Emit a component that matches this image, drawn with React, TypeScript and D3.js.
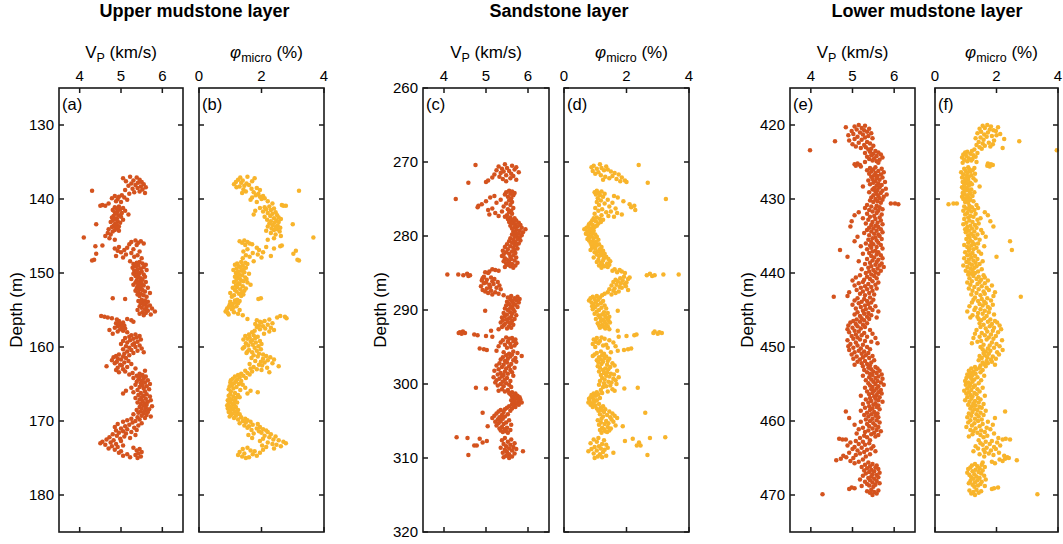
import React from 'react';
import * as d3 from 'd3';

// depth (m), Vp (km/s), phi_micro (%)
const upperLog: [number, number, number][] = [
  [137.0,5.22,1.55],[137.1,5.38,1.32],[137.2,5.05,1.78],[137.4,5.45,1.25],[137.5,5.30,1.40],[137.6,5.12,1.70],[137.7,5.50,1.18],
  [137.8,5.41,1.35],[137.9,5.25,1.52],[138.0,5.55,1.12],[138.1,5.35,1.60],[138.2,5.18,1.45],[138.3,5.48,1.30],[138.4,5.60,1.20],[138.5,5.40,1.85],
  [138.6,5.28,1.68],[138.7,5.52,1.42],[138.8,5.10,1.95],[138.9,4.30,3.20],[139.0,5.45,1.50],[139.1,5.32,1.75],[139.2,5.58,1.38],[139.3,5.20,1.90],
  [139.5,5.02,1.82],[139.6,4.85,2.05],[139.7,4.95,1.95],[139.8,5.08,1.70],[139.9,4.78,2.10],[140.0,4.92,2.00],[140.1,5.15,1.65],[140.3,4.88,2.20],
  [140.4,5.00,1.85],[140.6,4.70,2.35],[140.8,4.55,2.65],[140.9,4.62,2.78],[140.9,4.50,2.70],
  [141.0,4.95,2.25],[141.1,4.85,2.10],[141.2,5.05,1.95],[141.3,4.90,2.40],[141.4,4.98,2.15],[141.5,4.80,2.30],[141.6,5.10,1.80],[141.7,4.92,2.05],
  [141.8,4.85,2.45],[141.9,5.02,2.20],[142.0,4.88,2.35],[142.1,5.18,1.75],[142.2,4.95,2.50],[142.3,4.82,2.28],[142.4,5.00,2.10],[142.5,4.78,2.55],
  [142.6,4.90,2.40],[142.7,4.85,2.62],[142.8,5.05,2.18],[142.9,4.80,2.48],[143.0,4.92,2.30],[143.1,4.75,2.55],[143.2,4.98,2.42],[143.3,4.86,2.25],
  [143.4,4.40,3.00],[143.5,4.90,2.35],[143.6,4.82,2.52],[143.7,4.95,2.20],[143.8,4.78,2.45],[143.9,4.88,2.60],[144.0,4.92,2.32],[144.1,4.70,2.50],
  [144.2,4.85,2.40],[144.3,4.95,2.15],[144.4,4.80,2.58],[144.6,4.68,2.30],[144.8,4.75,2.45],[145.0,4.62,2.62],[145.2,4.10,3.66],[145.3,4.72,2.40],
  [145.5,4.85,2.20],[145.6,5.35,1.45],[145.7,5.48,1.30],[145.8,5.25,1.55],[145.9,5.42,1.38],[146.0,5.55,1.62],[146.1,5.20,1.70],[146.2,5.38,1.48],
  [146.3,4.55,2.65],[146.4,4.38,2.60],[146.5,4.95,2.15],[146.6,5.15,1.85],[146.7,4.85,2.40],[146.8,5.30,1.55],[146.9,5.08,1.92],[147.0,4.92,3.10],
  [147.1,5.45,1.42],[147.2,5.00,2.05],[147.3,5.25,1.72],[147.4,4.40,3.02],[147.5,5.12,1.88],[147.6,5.40,1.50],[147.7,4.88,2.30],[147.8,5.32,1.62],
  [147.9,5.05,2.00],[148.0,5.50,1.40],[148.2,4.35,3.15],[148.3,4.30,3.20],[148.4,5.22,1.75],
  [148.5,5.45,1.35],[148.6,5.38,1.48],[148.7,5.52,1.22],[148.8,5.30,1.55],[148.9,5.60,1.15],[149.0,5.42,1.40],[149.1,5.35,1.28],[149.2,5.55,1.32],
  [149.3,5.28,1.50],[149.4,5.48,1.20],[149.5,5.40,1.42],[149.6,5.62,1.10],[149.7,5.32,1.35],[149.8,5.50,1.25],[149.9,5.38,1.45],[150.0,5.45,1.18],
  [150.1,5.30,1.60],[150.2,5.55,1.28],[150.3,5.42,1.38],[150.4,5.35,1.22],[150.5,5.58,1.15],[150.6,5.40,1.48],[150.7,5.48,1.30],[150.8,5.25,1.52],
  [150.9,5.52,1.20],[151.0,5.38,1.35],[151.1,5.45,1.42],[151.2,5.60,1.12],[151.3,5.35,1.55],[151.4,5.50,1.25],[151.5,5.42,1.30],[151.6,5.30,1.65],
  [151.7,5.55,1.18],[151.8,5.40,1.40],[151.9,5.48,1.22],[152.0,5.65,1.08],[152.1,5.38,1.50],[152.2,5.45,1.32],[152.3,5.52,1.15],[152.4,5.35,1.45],
  [152.5,5.58,1.20],[152.6,5.42,1.38],[152.7,5.70,1.00],[152.8,5.48,1.28],[152.9,5.40,1.42],[153.0,5.55,1.12],[153.1,5.45,1.35],[153.2,5.62,1.05],
  [153.4,4.80,1.98],[153.5,5.10,1.90],[153.6,5.50,1.22],[153.7,5.58,1.15],[153.8,5.42,1.30],[153.9,5.65,1.00],[154.0,5.52,1.18],[154.1,5.48,1.25],
  [154.2,5.60,1.08],[154.3,5.55,0.98],[154.4,5.70,1.02],[154.5,5.45,1.20],[154.6,5.62,0.95],[154.7,5.50,1.10],[154.8,5.75,0.90],[154.9,5.58,1.05],
  [155.0,5.40,1.30],[155.1,5.65,0.88],[155.2,5.82,0.85],[155.3,5.52,1.12],[155.4,5.60,0.92],[155.5,5.45,1.25],[155.6,5.72,0.95],[155.7,5.55,1.40],
  [155.8,4.52,2.60],[155.9,4.60,2.75],[156.0,4.68,2.50],[156.1,4.78,2.80],[156.2,5.15,1.55],[156.3,4.90,2.25],[156.4,5.25,1.85],[156.5,4.95,2.10],
  [156.6,5.30,1.95],[156.7,5.05,2.00],[156.8,4.88,2.35],[156.9,5.00,1.80],[157.0,4.95,2.20],[157.1,5.08,1.92],[157.2,4.92,2.05],[157.3,5.02,1.85],
  [157.4,4.85,2.30],[157.5,5.10,2.12],[157.6,4.98,1.95],[157.7,4.72,2.40],[157.8,5.05,1.78],[157.9,4.92,2.25],[158.0,5.15,1.70],[158.2,4.80,2.08],
  [158.3,5.35,1.60],[158.4,5.25,1.75],[158.5,5.45,1.48],[158.6,5.20,1.88],[158.7,5.38,1.62],[158.8,5.10,1.80],[158.9,5.30,1.55],[159.0,5.48,1.42],
  [159.1,5.22,1.70],[159.2,5.05,1.95],[159.3,5.40,1.65],[159.4,5.15,1.82],[159.5,5.32,1.50],[159.6,5.00,2.00],[159.7,5.28,1.72],[159.8,5.45,1.58],
  [159.9,5.12,1.90],[160.0,5.35,1.45],[160.1,5.20,1.78],[160.2,5.50,1.40],[160.3,5.05,1.98],[160.4,5.25,1.60],[160.5,5.40,1.85],[160.6,5.15,1.55],
  [160.7,5.55,1.70],[160.8,5.30,1.52],[160.9,5.08,1.92],[161.0,4.95,2.05],[161.1,5.20,1.75],[161.2,4.88,2.15],[161.3,5.05,1.88],[161.4,4.82,2.28],
  [161.5,5.12,1.68],[161.6,4.92,2.05],[161.7,5.00,2.40],[161.8,4.78,2.20],[161.9,5.18,1.80],[162.0,4.90,1.98],[162.1,5.08,2.10],[162.2,4.85,2.35],
  [162.3,5.25,1.62],[162.4,4.98,1.92],[162.5,5.02,2.02],[162.6,4.65,2.55],[162.7,5.15,1.75],[162.8,4.92,2.18],[162.9,5.35,1.65],[163.0,5.05,1.85],
  [163.1,4.88,2.00],[163.2,5.58,1.48],[163.3,5.10,1.70],[163.4,4.95,2.25],[163.5,5.28,1.55],[163.6,5.45,1.35],[163.7,5.20,1.62],[163.8,5.52,1.25],
  [163.9,5.38,1.42],[164.0,5.60,1.15],[164.1,5.45,1.30],[164.2,5.30,1.50],[164.3,5.55,1.08],[164.4,5.42,1.22],[164.5,5.65,1.02],[164.6,5.50,1.35],
  [164.7,5.38,1.18],[164.8,5.58,1.00],[164.9,5.48,1.12],[165.0,5.70,1.28],[165.1,5.35,1.40],[165.2,5.52,1.05],[165.3,5.62,0.98],[165.4,5.45,1.20],
  [165.5,5.25,1.48],[165.6,5.55,1.10],[165.7,5.68,0.95],[165.8,5.40,1.32],[165.9,5.12,1.65],[166.0,5.58,1.02],[166.1,5.30,1.88],[166.2,5.48,1.15],
  [166.3,5.05,1.55],[166.4,5.62,1.00],[166.5,5.42,1.25],[166.6,5.55,0.95],[166.7,5.70,1.10],[166.8,5.50,1.30],[166.9,5.35,1.18],[167.0,5.60,0.98],
  [167.1,5.45,1.05],[167.2,5.72,0.92],[167.3,5.52,1.15],[167.4,5.65,1.00],[167.5,5.40,1.22],[167.6,5.58,0.95],[167.7,5.48,1.08],[167.8,5.62,1.12],
  [167.9,5.55,0.90],[168.0,5.75,0.98],[168.1,5.45,1.18],[168.2,5.60,1.05],[168.3,5.50,0.92],[168.4,5.68,1.10],[168.5,5.38,1.25],[168.6,5.58,1.00],
  [168.7,5.48,1.15],[168.8,5.65,0.95],[168.9,5.42,1.22],[169.0,5.55,1.08],[169.1,5.30,1.30],[169.2,5.62,1.02],[169.3,5.50,1.18],[169.4,5.72,0.98],
  [169.5,5.40,1.35],[169.6,5.58,1.12],[169.7,5.25,1.48],[169.8,5.45,1.25],[169.9,5.15,1.55],[170.0,5.35,1.40],[170.1,5.05,1.65],[170.2,5.28,1.50],
  [170.3,5.50,1.30],[170.4,4.92,1.88],[170.5,5.20,1.72],[170.6,5.42,1.45],[170.7,5.10,1.60],[170.8,4.85,1.95],[170.9,5.32,1.55],[171.0,5.00,1.85],
  [171.1,5.15,2.05],[171.2,5.38,1.68],[171.3,4.88,2.15],[171.4,5.05,1.92],[171.5,5.25,2.20],[171.6,4.95,2.00],[171.7,5.12,1.75],[171.8,4.80,2.30],
  [171.9,5.35,1.58],[172.0,4.90,2.10],[172.1,5.08,2.45],[172.2,4.72,2.25],[172.3,5.22,1.70],[172.4,4.98,2.05],[172.5,4.65,2.38],[172.6,4.82,2.55],
  [172.7,5.00,1.95],[172.8,4.55,2.70],[172.9,4.75,2.20],[173.0,4.50,2.78],[173.1,4.88,2.35],[173.2,4.62,2.48],[173.3,5.05,2.02],[173.4,4.78,2.62],
  [173.5,4.92,2.15],[173.6,5.30,1.55],[173.7,4.70,2.40],[173.8,5.45,1.40],[173.9,4.85,2.05],[174.0,5.38,1.65],[174.1,5.00,1.78],[174.2,5.50,1.30],
  [174.3,4.95,1.95],[174.4,5.42,1.45],[174.5,5.15,1.72],[174.6,5.35,1.25],[174.7,5.05,1.85],[174.8,5.48,1.38],[174.9,5.22,1.60],[175.0,5.40,1.50],
];

const sandLog: [number, number, number][] = [
  [270.3,5.45,1.15],[270.4,4.75,2.39],[270.5,5.62,0.95],[270.6,5.30,1.35],[270.7,5.72,0.88],[270.8,5.50,1.20],[270.9,5.38,1.05],[271.0,5.68,1.40],
  [271.1,5.25,1.28],[271.2,5.55,0.92],[271.3,5.42,1.50],[271.4,5.78,1.10],[271.5,5.35,1.62],[271.6,5.60,1.00],[271.7,5.20,1.75],[271.8,5.48,1.18],
  [271.9,5.65,1.55],[272.0,5.32,1.32],[272.1,5.15,1.85],[272.2,5.58,1.45],[272.3,5.40,1.68],[272.4,5.72,1.25],[272.5,5.05,1.95],[272.6,5.48,1.80],
  [272.7,5.00,2.00],[272.8,4.58,2.68],
  [273.9,5.55,1.05],[274.0,5.62,1.20],[274.1,5.48,0.98],[274.2,5.68,1.12],[274.3,5.58,1.30],[274.4,5.45,1.02],[274.5,5.65,1.15],[274.6,5.20,1.60],
  [274.7,5.52,1.25],[274.8,5.10,1.72],[274.9,5.60,1.08],[275.0,4.28,3.26],[275.1,5.35,1.40],[275.2,5.55,1.18],[275.3,5.00,1.90],[275.4,5.62,1.05],
  [275.5,5.25,1.55],[275.6,5.48,1.30],[275.7,4.90,2.10],[275.8,5.58,1.12],[275.9,4.82,2.25],[276.0,5.42,1.45],[276.1,4.80,2.15],[276.2,5.65,1.00],
  [276.3,5.15,1.65],[276.4,5.52,1.22],[276.5,5.05,2.28],[276.6,5.60,1.10],[276.7,5.38,1.50],[276.8,5.55,1.35],[276.9,5.22,1.70],[277.0,5.62,0.98],
  [277.1,5.08,1.85],[277.2,5.50,1.20],[277.3,5.30,1.42],[277.4,5.45,1.60],[277.5,5.58,1.05],[277.6,5.68,0.95],[277.7,5.52,1.15],
  [277.8,5.60,1.25],[277.9,5.72,0.90],[278.0,5.65,1.02],[278.1,5.55,1.18],[278.2,5.78,0.85],[278.3,5.62,1.10],[278.4,5.70,0.80],[278.5,5.82,0.92],
  [278.6,5.58,1.05],[278.7,5.75,0.78],[278.8,5.68,0.98],[278.9,5.85,0.72],[279.0,5.62,0.88],[279.1,5.94,0.65],[279.2,5.72,0.82],[279.3,5.80,0.95],
  [279.4,5.65,0.75],[279.5,5.88,0.85],[279.6,5.70,0.92],[279.7,5.78,0.70],[279.8,5.62,1.00],[279.9,5.85,0.78],[280.0,5.72,0.88],[280.1,5.68,1.05],
  [280.2,5.80,0.82],[280.3,5.58,0.95],[280.4,5.75,0.75],[280.5,5.65,1.10],[280.6,5.82,0.80],[280.7,5.55,0.92],[280.8,5.70,1.02],[280.9,5.62,0.85],
  [281.0,5.78,0.98],[281.1,5.50,1.12],[281.2,5.68,0.88],[281.3,5.72,1.05],[281.4,5.58,0.95],[281.5,5.45,1.20],[281.6,5.65,0.90],[281.7,5.75,1.00],
  [281.8,5.52,1.15],[281.9,5.68,0.85],[282.0,5.40,1.25],[282.1,5.62,1.08],[282.2,5.48,0.98],[282.3,5.70,1.18],[282.4,5.55,1.30],[282.5,5.42,1.05],
  [282.6,5.65,1.22],[282.7,5.38,1.12],[282.8,5.58,1.35],[282.9,5.72,0.95],[283.0,5.45,1.28],[283.1,5.60,1.42],[283.2,5.50,1.10],[283.3,5.68,1.25],
  [283.4,5.42,1.48],[283.5,5.55,1.05],[283.6,5.75,1.18],[283.7,5.48,1.38],[283.8,5.62,1.22],[283.9,5.52,1.45],[284.0,5.70,1.12],[284.1,5.58,1.30],
  [284.2,5.45,1.40],[284.3,5.65,1.20],[284.5,5.15,1.62],[284.6,5.22,1.78],[284.7,5.30,1.55],[284.8,5.08,1.85],[284.9,4.98,1.70],
  [285.0,5.05,1.95],[285.1,4.55,2.75],[285.2,4.08,3.67],[285.2,4.34,3.18],[285.3,4.46,2.90],[285.3,4.62,2.65],[285.4,4.58,2.82],[285.5,4.95,1.92],
  [285.6,5.12,2.10],[285.7,4.92,1.80],[285.8,5.20,2.05],[285.9,5.02,1.65],[286.0,4.90,1.88],[286.1,5.15,1.72],[286.2,5.28,1.58],[286.3,5.00,2.00],
  [286.4,4.95,1.82],[286.5,5.18,1.95],[286.6,5.08,1.68],[286.7,5.32,1.52],[286.8,4.88,1.98],[286.9,5.10,1.78],[287.0,5.25,1.85],[287.1,5.02,1.62],
  [287.2,5.35,1.45],[287.3,4.92,2.05],[287.4,5.12,1.58],[287.5,4.98,1.75],[287.6,5.22,1.40],[287.7,5.05,1.65],[287.8,5.30,1.30],[287.9,5.15,1.52],
  [288.0,5.42,1.22],[288.1,5.60,1.05],[288.2,5.75,0.92],[288.3,5.52,1.15],[288.4,5.68,0.85],[288.5,5.80,0.98],[288.6,5.58,1.10],[288.7,5.72,0.80],
  [288.8,5.62,1.25],[288.9,5.50,1.02],[289.0,5.78,0.88],[289.1,5.65,1.18],[289.2,5.55,0.95],[289.3,5.70,1.08],[289.4,5.48,1.30],[289.5,5.62,0.90],
  [289.6,5.75,1.00],[289.7,5.58,1.20],[289.8,5.45,1.35],[289.9,5.65,0.92],[290.0,5.52,1.12],[290.1,4.98,1.72],[290.2,5.68,1.05],[290.3,5.58,1.28],
  [290.4,5.42,1.40],[290.5,5.62,0.98],[290.6,5.50,1.22],[290.7,5.72,1.10],[290.8,5.45,1.32],[290.9,5.60,1.45],[291.0,5.38,1.15],[291.1,5.55,1.38],
  [291.2,5.68,1.02],[291.3,5.48,1.25],[291.4,5.40,1.42],[291.5,5.62,1.18],[291.6,5.52,1.30],[291.7,5.35,1.47],[291.8,5.58,1.08],[291.9,5.45,1.35],
  [292.0,5.65,1.22],[292.1,5.42,1.12],[292.2,5.55,1.40],[292.3,5.38,1.28],[292.4,5.60,1.15],[292.5,5.50,1.32],[292.6,5.30,1.45],
  [292.8,5.12,1.72],[292.9,4.45,2.90],[293.0,4.38,3.05],[293.1,4.35,3.13],[293.1,4.50,2.86],[293.2,4.42,3.00],[293.3,4.72,2.32],[293.4,4.80,2.25],
  [293.5,5.00,2.00],[293.6,5.15,1.75],[293.7,5.48,1.20],[293.8,5.62,1.05],[293.9,5.55,1.30],[294.0,5.70,0.95],[294.1,5.40,1.45],[294.2,5.65,1.15],
  [294.3,5.52,1.02],[294.4,5.35,1.58],[294.5,5.72,1.10],[294.6,5.58,0.92],[294.7,5.45,1.35],[294.8,5.68,1.25],[294.9,5.30,1.65],[295.0,5.60,1.00],
  [295.1,5.50,1.40],[295.2,4.85,2.15],[295.3,4.95,2.05],[295.4,5.02,1.92],[295.5,5.25,1.72],[295.6,5.65,1.18],[295.7,5.42,1.50],[295.8,5.75,1.05],
  [295.9,5.55,1.28],[296.0,5.62,0.98],[296.1,5.48,1.22],[296.2,5.85,0.92],[296.3,5.58,1.35],[296.4,5.40,1.12],[296.5,5.70,1.30],[296.6,5.52,1.45],
  [296.7,5.35,1.18],[296.8,5.65,1.05],[296.9,5.45,1.40],[297.0,5.72,1.25],[297.1,5.50,1.10],[297.2,5.32,1.55],[297.3,5.60,1.20],[297.4,5.42,1.38],
  [297.5,5.25,1.62],[297.6,5.55,1.08],[297.7,5.38,1.48],[297.8,5.68,1.15],[297.9,5.48,1.32],[298.0,5.30,1.42],[298.1,5.58,1.25],[298.2,5.20,1.70],
  [298.3,5.45,1.12],[298.4,5.62,1.38],[298.5,5.35,1.28],[298.6,5.52,1.50],[298.7,5.28,1.60],[298.8,5.42,1.18],[298.9,5.65,1.35],[299.0,5.38,1.45],
  [299.1,5.18,1.75],[299.2,5.50,1.22],[299.3,5.32,1.58],[299.4,5.45,1.30],[299.5,5.25,1.65],[299.6,5.58,1.15],[299.7,5.40,1.42],[299.8,5.22,1.52],
  [299.9,5.48,1.28],[300.0,5.35,1.68],[300.1,5.55,1.12],[300.2,5.28,1.48],[300.3,5.42,1.35],[300.4,5.60,1.25],[300.5,4.76,2.36],[300.6,5.00,1.93],
  [300.7,5.38,1.55],[300.8,5.52,1.18],[300.9,5.30,1.62],[301.0,5.45,1.40],[301.1,5.62,1.05],[301.2,5.55,1.22],[301.3,5.70,0.95],[301.4,5.58,1.10],
  [301.5,5.68,0.88],[301.6,5.75,1.02],[301.7,5.62,0.92],[301.8,5.80,0.85],[301.9,5.65,1.15],[302.0,5.72,0.80],[302.1,5.82,0.95],[302.2,5.60,1.05],
  [302.3,5.78,0.82],[302.4,5.68,0.98],[302.5,5.85,0.78],[302.6,5.72,0.90],[302.7,5.62,1.12],[302.8,5.78,0.85],[302.9,5.65,1.00],[303.0,5.55,1.25],
  [303.1,5.70,0.92],[303.2,5.50,1.18],[303.3,5.62,1.05],[303.4,5.45,1.32],[303.5,5.35,1.20],[303.6,5.58,1.10],[303.7,5.30,1.45],[303.8,5.42,1.28],
  [303.9,4.92,2.60],[304.0,5.25,1.55],[304.1,5.52,1.15],[304.2,5.38,1.38],[304.3,5.20,1.62],[304.4,5.45,1.25],[304.5,5.32,1.48],[304.6,5.15,1.70],
  [304.7,5.40,1.20],[304.8,5.28,1.52],[304.9,5.55,1.08],[305.0,5.35,1.35],[305.1,5.22,1.58],[305.2,5.48,1.18],[305.3,5.30,1.42],[305.4,5.42,1.30],
  [305.5,5.60,1.12],[305.6,5.25,1.65],[305.7,5.04,1.88],[305.8,5.38,1.40],[305.9,5.50,1.22],[306.0,5.32,1.50],[306.1,5.45,1.28],[306.2,5.58,1.15],
  [306.3,5.35,1.45],[306.4,5.48,1.32],[306.5,5.40,1.38],[306.6,5.52,1.20],
  [307.2,4.30,3.24],[307.3,4.56,2.75],[307.3,5.45,1.10],[307.4,4.85,2.20],[307.5,5.60,0.95],[307.6,5.38,1.28],[307.7,5.02,1.95],[307.8,5.52,1.05],
  [307.9,4.92,2.40],[308.0,5.68,0.85],[308.1,5.42,1.22],[308.2,5.58,1.35],[308.3,4.72,2.45],[308.3,4.78,2.33],[308.4,5.48,1.12],[308.5,5.65,0.98],
  [308.6,5.35,1.40],[308.7,5.55,1.18],[308.8,5.72,0.88],[308.9,5.45,1.30],[309.0,5.62,1.05],[309.1,5.88,0.78],[309.2,5.50,1.25],[309.3,5.40,1.58],
  [309.4,5.68,0.95],[309.5,5.55,1.15],[309.6,4.58,2.67],[309.7,5.48,1.35],[309.8,5.62,1.08],[309.9,5.42,1.22],[310.0,5.55,0.98],
];

const lowerLog: [number, number, number][] = [
  [420.0,5.15,1.70],[420.1,5.30,1.55],[420.2,5.05,1.82],[420.3,4.84,2.05],[420.4,5.22,1.62],[420.5,5.40,1.45],[420.6,5.10,1.78],[420.7,5.28,1.90],
  [420.8,4.98,1.98],[420.9,5.35,1.50],[421.0,5.18,1.72],[421.1,5.45,1.38],[421.2,5.02,2.12],[421.3,5.25,1.60],[421.4,4.90,2.00],[421.5,5.38,1.85],
  [421.6,5.12,1.68],[421.7,5.30,1.48],[421.8,5.48,1.32],[421.9,5.05,2.25],[422.0,5.22,1.58],[422.1,4.92,1.92],[422.2,4.58,2.74],[422.3,5.35,1.42],
  [422.4,5.15,1.75],[422.5,5.42,1.55],[422.6,5.00,1.88],[422.7,5.28,1.35],[422.8,5.50,1.62],[422.9,5.08,1.80],[423.0,5.32,1.45],[423.1,5.20,2.20],
  [423.2,5.45,1.52],[423.3,5.38,1.28],[423.4,3.98,3.96],[423.5,5.55,1.20],[423.6,5.42,1.05],[423.7,5.62,0.98],[423.8,5.30,1.38],[423.9,5.50,1.15],
  [424.0,5.68,0.92],[424.1,5.45,1.25],[424.2,5.58,1.02],[424.3,5.35,1.32],[424.4,5.72,0.88],[424.5,5.52,1.10],[424.6,5.40,1.22],[424.7,5.65,0.95],
  [424.8,5.48,1.18],[424.9,5.58,1.05],[425.0,5.30,1.35],[425.1,5.62,0.90],[425.2,5.12,1.72],[425.3,5.05,1.82],[425.4,5.18,1.88],[425.5,5.08,1.70],
  [425.6,5.20,1.78],[425.7,5.55,1.08],[425.8,5.42,1.28],[425.9,5.70,0.95],[426.0,5.50,1.12],[426.1,5.35,1.22],[426.2,5.62,1.00],[426.3,5.45,1.15],
  [426.4,5.75,0.85],[426.5,5.55,1.05],[426.6,5.40,1.30],[426.7,5.68,0.92],[426.8,5.52,1.18],[426.9,5.60,1.02],[427.0,5.45,1.10],[427.1,5.72,0.88],
  [427.2,5.58,1.25],[427.3,5.48,0.98],[427.4,5.65,1.08],[427.5,5.38,1.32],[427.6,5.55,1.00],[427.7,5.78,0.90],[427.8,5.50,1.15],[427.9,5.62,1.05],
  [428.0,5.42,1.20],[428.1,5.70,0.95],[428.2,5.58,1.10],[428.3,5.25,1.45],[428.4,5.65,0.88],[428.5,5.52,1.02],[428.6,5.80,0.92],[428.7,5.48,1.18],
  [428.8,5.60,1.08],[428.9,5.72,0.98],[429.0,5.55,1.12],[429.1,5.40,1.28],[429.2,5.68,0.90],[429.3,5.58,1.15],[429.4,5.82,0.95],[429.5,5.50,1.05],
  [429.6,5.62,1.22],[429.7,5.75,0.88],[429.8,5.45,1.10],[429.9,5.65,1.00],[430.0,5.55,0.92],[430.1,5.72,1.15],[430.2,5.42,1.05],[430.3,5.60,1.25],
  [430.4,5.50,0.98],[430.5,5.68,1.08],[430.6,5.92,0.71],[430.6,6.02,0.60],[430.7,6.10,0.44],[430.8,5.35,1.35],[430.9,5.58,1.12],[431.0,5.45,0.95],
  [431.1,5.65,1.20],[431.2,5.30,1.40],[431.3,5.55,1.02],[431.4,5.72,1.10],[431.5,5.40,1.28],[431.6,5.62,0.92],[431.7,5.48,1.18],[431.8,5.15,1.62],
  [431.9,5.58,1.05],[432.0,5.35,1.32],[432.1,5.70,0.98],[432.2,5.05,1.72],[432.3,5.52,1.15],[432.4,5.42,1.25],[432.5,5.65,1.08],[432.6,5.25,1.48],
  [432.7,5.55,0.95],[432.8,5.38,1.38],[432.9,5.68,1.12],[433.0,4.98,1.80],[433.1,5.48,1.22],[433.2,5.60,1.02],[433.3,5.32,1.42],[433.4,5.72,0.92],
  [433.5,5.45,1.30],[433.6,5.55,1.15],[433.7,4.95,1.90],[433.8,5.62,1.05],[433.9,5.40,1.35],[434.0,5.50,1.20],[434.1,5.68,0.98],[434.2,5.35,1.50],
  [434.3,5.58,1.10],[434.4,5.45,1.28],[434.5,5.72,1.00],[434.6,5.28,1.55],[434.7,5.52,1.18],[434.8,5.62,1.38],[434.9,5.40,1.08],[435.0,5.65,1.25],
  [435.1,5.12,1.65],[435.2,5.55,1.12],[435.3,5.48,1.32],[435.4,5.70,1.02],[435.5,5.38,1.45],[435.6,5.58,1.15],[435.7,5.05,2.44],[435.8,5.45,1.22],
  [435.9,5.62,1.08],[436.0,5.32,1.40],[436.1,5.50,1.28],[436.2,5.68,0.95],[436.3,5.42,1.18],[436.4,5.20,1.60],[436.5,5.58,1.05],[436.6,5.45,1.35],
  [436.7,5.72,1.12],[436.8,5.35,1.25],[436.9,4.70,2.50],[437.0,5.55,1.10],[437.1,5.48,1.42],[437.2,5.62,0.98],[437.3,5.40,1.22],[437.4,5.25,1.50],
  [437.5,5.58,1.15],[437.6,5.68,1.05],[437.7,5.45,1.30],[437.8,4.88,2.00],[437.9,5.52,1.18],[438.0,5.72,0.95],[438.1,5.35,1.38],[438.2,5.62,1.10],
  [438.3,5.48,1.25],[438.4,5.15,1.55],[438.5,5.58,1.02],[438.6,5.42,1.32],[438.7,5.70,1.12],[438.8,5.30,1.45],[438.9,5.55,1.20],[439.0,5.65,0.92],
  [439.1,5.45,1.35],[439.2,5.75,1.05],[439.3,5.38,1.28],[439.4,5.60,1.15],[439.5,5.22,1.52],[439.6,5.50,1.22],[439.7,5.68,1.00],[439.8,5.40,1.40],
  [439.9,5.55,1.10],[440.0,5.32,1.30],[440.1,5.62,1.18],[440.2,5.45,1.08],[440.3,5.18,1.58],[440.4,5.52,1.25],[440.5,5.35,1.42],[440.6,5.08,1.62],
  [440.7,5.58,1.12],[440.8,5.42,1.35],[440.9,5.28,1.50],[441.0,5.00,1.72],[441.1,5.48,1.20],[441.2,5.25,1.45],[441.3,5.62,1.05],[441.4,5.15,1.62],
  [441.5,5.38,1.38],[441.6,5.55,1.15],[441.7,5.05,1.85],[441.8,5.30,1.52],[441.9,5.45,1.28],[442.0,5.20,1.68],[442.1,5.58,1.10],[442.2,5.35,1.42],
  [442.3,5.10,1.75],[442.4,5.48,1.22],[442.5,5.25,1.58],[442.6,4.92,1.95],[442.7,5.40,1.35],[442.8,5.18,1.62],[442.9,5.52,1.18],[443.0,5.30,1.48],
  [443.1,4.88,1.90],[443.2,4.55,2.79],[443.3,5.42,1.30],[443.4,5.12,1.70],[443.5,5.28,1.52],[443.6,5.50,1.25],[443.7,5.05,1.82],[443.8,5.35,1.40],
  [443.9,5.22,1.60],[444.0,5.45,1.20],[444.1,5.15,1.65],[444.2,5.38,1.45],[444.3,5.00,1.88],[444.4,5.30,1.55],[444.5,5.55,1.12],[444.6,5.20,1.72],
  [444.7,5.42,1.32],[444.8,5.08,1.78],[444.9,5.32,1.48],[445.0,5.48,1.28],[445.1,5.25,1.62],[445.2,5.62,1.05],[445.3,5.12,1.75],[445.4,5.38,1.40],
  [445.5,5.28,1.55],[445.6,5.05,1.92],[445.7,5.45,1.22],[445.8,5.18,1.68],[445.9,5.35,1.38],[446.0,5.58,1.15],[446.1,5.22,1.60],[446.2,5.40,1.42],
  [446.3,5.10,1.80],[446.4,5.28,1.50],[446.5,5.02,1.95],[446.6,5.18,1.72],[446.7,4.95,2.02],[446.8,5.35,1.45],[446.9,5.08,1.85],[447.0,5.25,1.58],
  [447.1,4.90,2.10],[447.2,5.12,1.78],[447.3,5.30,1.48],[447.4,5.00,1.92],[447.5,5.20,1.65],[447.6,4.88,2.15],[447.7,5.42,1.35],[447.8,5.05,1.88],
  [447.9,5.15,1.70],[448.0,4.92,2.05],[448.1,5.28,1.52],[448.2,5.48,1.30],[448.3,5.08,1.82],[448.4,5.22,1.62],[448.5,4.98,1.98],[448.6,5.35,1.45],
  [448.7,5.12,1.75],[448.8,5.55,1.25],[448.9,5.02,1.90],[449.0,5.18,1.68],[449.1,4.88,2.18],[449.2,5.30,1.50],[449.3,5.45,1.38],[449.4,5.08,1.85],
  [449.5,5.60,1.20],[449.6,4.95,2.00],[449.7,5.25,1.58],[449.8,5.12,1.78],[449.9,4.90,2.10],[450.0,5.35,1.48],[450.1,5.02,1.92],[450.2,5.20,1.72],
  [450.3,5.42,1.55],[450.4,4.92,2.20],[450.5,5.15,1.80],[450.6,5.28,1.65],[450.7,5.05,2.02],[450.8,5.38,1.58],[450.9,5.22,1.75],[451.0,4.98,2.08],
  [451.1,5.32,1.62],[451.2,5.48,1.45],[451.3,5.10,1.88],[451.4,5.25,1.70],[451.5,5.40,1.52],[451.6,5.02,1.98],[451.7,5.18,1.82],[451.8,5.52,1.42],
  [451.9,5.30,1.68],[452.0,5.12,1.85],[452.1,5.45,1.55],[452.2,5.22,1.72],[452.3,5.35,1.60],[452.4,5.05,1.95],[452.5,5.42,1.48],[452.6,5.25,1.65],
  [452.7,5.55,1.30],[452.8,5.38,1.45],[452.9,5.60,1.18],[453.0,5.45,1.35],[453.1,5.28,1.55],[453.2,5.65,1.10],[453.3,5.50,1.25],[453.4,5.35,1.48],
  [453.5,5.58,1.15],[453.6,5.42,1.32],[453.7,5.70,1.05],[453.8,5.48,1.22],[453.9,5.25,1.60],[454.0,5.62,1.12],[454.1,5.40,1.38],[454.2,5.55,1.02],
  [454.3,5.72,1.18],[454.4,5.45,1.28],[454.5,5.32,1.50],[454.6,5.60,0.98],[454.7,5.50,1.22],[454.8,5.68,1.08],[454.9,5.38,1.42],[455.0,5.55,1.15],
  [455.1,5.75,1.00],[455.2,5.42,1.30],[455.3,5.62,1.12],[455.4,5.48,1.25],[455.5,5.30,1.55],[455.6,5.58,1.05],[455.7,5.45,1.38],[455.8,5.68,1.18],
  [455.9,5.52,0.95],[456.0,5.35,1.45],[456.1,5.62,1.10],[456.2,5.48,1.28],[456.3,5.70,1.02],[456.4,5.40,1.35],[456.5,5.58,1.15],[456.6,5.20,1.62],
  [456.7,5.52,1.22],[456.8,5.65,1.05],[456.9,5.42,1.40],[457.0,5.55,1.18],[457.1,5.32,1.48],[457.2,5.62,0.98],[457.3,5.45,1.30],[457.4,5.72,1.12],
  [457.5,5.38,1.42],[457.6,5.55,1.25],[457.7,5.25,1.58],[457.8,5.50,1.08],[457.9,5.62,1.32],[458.0,5.40,1.20],[458.1,5.58,1.45],[458.2,5.30,1.52],
  [458.3,5.48,1.15],[458.4,5.65,1.28],[458.5,5.42,1.38],[458.6,5.20,1.65],[458.7,4.84,2.28],[458.8,5.52,1.22],[458.9,5.35,1.48],[459.0,5.60,1.10],
  [459.1,5.45,1.35],[459.2,5.28,1.58],[459.3,5.55,1.18],[459.4,5.38,1.42],[459.5,5.62,1.05],[459.6,4.92,1.95],[459.7,5.48,1.30],[459.8,5.32,1.52],
  [459.9,5.58,1.15],[460.0,5.42,1.40],[460.1,5.20,1.72],[460.2,5.65,1.08],[460.3,5.50,1.28],[460.4,5.35,1.55],[460.5,5.05,1.88],[460.6,5.55,1.20],
  [460.7,5.40,1.45],[460.8,5.62,1.02],[460.9,5.25,1.68],[461.0,5.48,1.32],[461.1,5.15,1.80],[461.2,5.58,1.15],[461.3,5.38,1.50],[461.4,5.68,1.25],
  [461.5,5.30,1.62],[461.6,5.52,1.38],[461.7,5.10,1.92],[461.8,5.45,1.22],[461.9,5.62,1.48],[462.0,5.28,1.70],[462.1,5.55,1.10],[462.2,5.35,1.58],
  [462.3,5.18,2.06],[462.4,4.68,2.30],[462.5,4.76,2.44],[462.5,4.84,2.20],[462.6,5.42,1.42],[462.7,5.08,1.85],[462.8,5.25,1.65],[462.9,4.95,2.02],
  [463.0,5.40,1.48],[463.1,5.15,1.78],[463.2,5.30,1.55],[463.3,4.88,2.12],[463.4,5.50,1.32],[463.5,5.05,1.92],[463.6,5.22,1.68],[463.7,5.45,1.40],
  [463.8,5.00,1.98],[463.9,5.35,1.58],[464.0,5.12,1.82],[464.1,5.55,1.25],[464.2,5.28,1.62],[464.3,4.92,2.08],[464.4,5.18,1.75],[464.5,5.42,1.45],
  [464.6,5.08,1.90],[464.7,4.78,2.25],[464.8,5.32,1.60],[464.9,4.85,2.35],[465.0,5.02,2.40],[465.1,4.72,2.28],[465.2,5.25,2.10],[465.3,4.61,2.66],
  [465.4,4.95,2.20],[465.5,5.15,1.85],[465.6,5.38,1.55],[465.7,5.05,1.95],[465.8,5.48,1.30],[465.9,5.30,1.52],[466.0,5.58,1.20],[466.1,5.42,1.38],
  [466.2,5.22,1.62],[466.3,5.55,1.15],[466.4,5.35,1.45],[466.5,5.62,1.08],[466.6,5.45,1.32],[466.7,5.28,1.55],[466.8,5.52,1.22],[466.9,5.40,1.42],
  [467.0,5.65,1.05],[467.1,5.32,1.50],[467.2,5.48,1.28],[467.3,5.58,1.12],[467.4,5.25,1.60],[467.5,5.45,1.35],[467.6,5.62,1.18],[467.7,5.38,1.45],
  [467.8,5.52,1.25],[467.9,5.18,1.65],[468.0,5.42,1.38],[468.1,5.58,1.15],[468.2,5.30,1.52],[468.3,5.48,1.30],[468.4,5.65,1.10],[468.5,5.35,1.48],
  [468.6,5.55,1.22],[468.7,5.40,1.40],[468.8,5.22,1.62],[468.9,5.50,1.28],[469.0,4.98,2.05],[469.1,5.05,1.92],[469.2,4.92,1.85],[469.3,5.45,1.35],
  [469.4,5.62,1.12],[469.5,5.35,1.50],[469.6,5.52,1.25],[469.7,5.42,1.42],[469.8,5.58,1.18],[469.9,4.28,3.33],[470.0,5.48,1.30],
];

const vpTicks = [4, 5, 6];
const phiTicks = [0, 2, 4];
const upperDepthTicks = [130, 140, 150, 160, 170, 180];
const sandDepthTicks = [260, 270, 280, 290, 300, 310, 320];
const lowerDepthTicks = [420, 430, 440, 450, 460, 470];

const FONT = '"Liberation Sans", Arial, Helvetica, sans-serif';
const VP_COLOR = '#d4531e';
const PHI_COLOR = '#f8b42b';
const TOP = 88;
const BOTTOM = 532;
const TICK = 5;

const layers = [
  { title: 'Upper mudstone layer', log: upperLog, domain: [125, 185], ticks: upperDepthTicks, vpX: [59, 183], phiX: [199, 324], tags: ['(a)', '(b)'] },
  { title: 'Sandstone layer', log: sandLog, domain: [260, 320], ticks: sandDepthTicks, vpX: [423, 549], phiX: [564, 689], tags: ['(c)', '(d)'] },
  { title: 'Lower mudstone layer', log: lowerLog, domain: [415, 475], ticks: lowerDepthTicks, vpX: [790, 915], phiX: [935, 1058], tags: ['(e)', '(f)'] },
];

function Track({ x, y, ticks, depthTicks, points, color, tag, kind }) {
  const [x0, x1] = x.range();
  return (
    <g>
      {points.map((p, i) => (
        <circle key={i} cx={x(p[1])} cy={y(p[0])} r={2.25} fill={color} />
      ))}
      <rect x={x0} y={TOP} width={x1 - x0} height={BOTTOM - TOP} fill="none" stroke="#1a1a1a" strokeWidth={1.6} />
      {ticks.map((t) => (
        <g key={`x${t}`}>
          <line x1={x(t)} x2={x(t)} y1={TOP} y2={TOP + TICK} stroke="#1a1a1a" strokeWidth={1.5} />
          <line x1={x(t)} x2={x(t)} y1={BOTTOM} y2={BOTTOM - TICK} stroke="#1a1a1a" strokeWidth={1.5} />
          <text x={x(t)} y={81} textAnchor="middle" fontSize={15}>{t}</text>
        </g>
      ))}
      {depthTicks.map((t) => (
        <g key={`y${t}`}>
          <line x1={x0} x2={x0 + TICK} y1={y(t)} y2={y(t)} stroke="#1a1a1a" strokeWidth={1.5} />
          <line x1={x1} x2={x1 - TICK} y1={y(t)} y2={y(t)} stroke="#1a1a1a" strokeWidth={1.5} />
        </g>
      ))}
      <text x={x0 + 3} y={110} fontSize={16.5}>{tag}</text>
      {kind === 'vp' ? (
        <text x={(x0 + x1) / 2} y={58} textAnchor="middle" fontSize={17}>
          V<tspan fontSize={12.5} dy={4}>P</tspan>
          <tspan dy={-4}> (km/s)</tspan>
        </text>
      ) : (
        <text x={(x0 + x1) / 2 + 5} y={58} textAnchor="middle" fontSize={17}>
          <tspan fontStyle="italic">φ</tspan>
          <tspan fontSize={12.5} dy={4}>micro</tspan>
          <tspan dy={-4}> (%)</tspan>
        </text>
      )}
    </g>
  );
}

export default function App() {
  return (
    <div style={{ position: 'fixed', left: 0, top: 0 }}>
      <svg width={1063} height={544} fontFamily={FONT} style={{ display: 'block', background: '#fff' }}>
        {layers.map((L) => {
          const y = d3.scaleLinear().domain(L.domain).range([TOP, BOTTOM]);
          const xVp = d3.scaleLinear().domain([3.5, 6.5]).range(L.vpX);
          const xPhi = d3.scaleLinear().domain([0, 4]).range(L.phiX);
          const left = L.vpX[0];
          return (
            <g key={L.title}>
              <text x={(L.vpX[0] + L.phiX[1]) / 2 + 3} y={17} textAnchor="middle" fontSize={18} fontWeight="bold">
                {L.title}
              </text>
              {L.ticks.map((t) => (
                <text key={t} x={left - 5} y={y(t)} dy="0.35em" textAnchor="end" fontSize={15}>{t}</text>
              ))}
              <text transform={`translate(${left - 37},${(TOP + BOTTOM) / 2}) rotate(-90)`} textAnchor="middle" fontSize={17}>
                Depth (m)
              </text>
              <Track x={xVp} y={y} ticks={vpTicks} depthTicks={L.ticks} points={L.log.map((d) => [d[0], d[1]])} color={VP_COLOR} tag={L.tags[0]} kind="vp" />
              <Track x={xPhi} y={y} ticks={phiTicks} depthTicks={L.ticks} points={L.log.map((d) => [d[0], d[2]])} color={PHI_COLOR} tag={L.tags[1]} kind="phi" />
            </g>
          );
        })}
      </svg>
    </div>
  );
}
